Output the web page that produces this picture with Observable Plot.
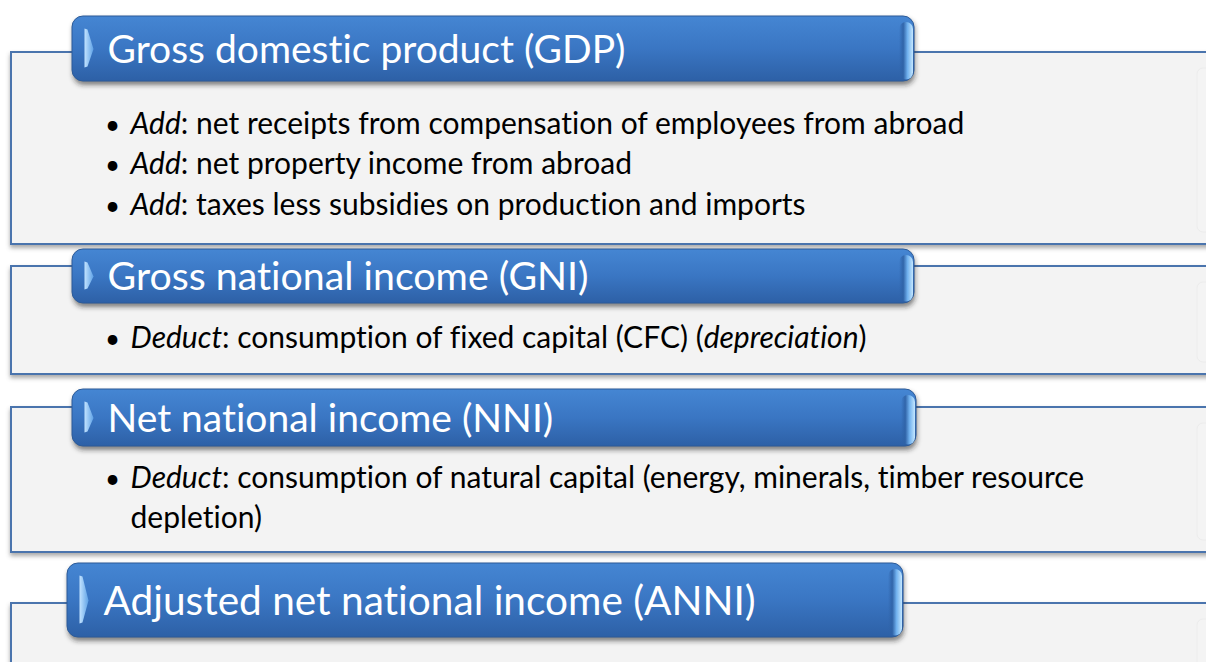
<!DOCTYPE html>
<html><head><meta charset="utf-8">
<script src="https://cdn.jsdelivr.net/npm/d3@7"></script>
<script src="https://cdn.jsdelivr.net/npm/@observablehq/plot@0.6"></script>
<style>html,body{margin:0;padding:0;background:#fff;overflow:hidden} svg text{font-variant-ligatures:none;font-feature-settings:"liga" 0,"clig" 0}</style>
</head><body><div id="chart"></div>
<script>
// ---- content ----
const sections = [
  "Gross domestic product (GDP)",
  "Gross national income (GNI)",
  "Net national income (NNI)",
  "Adjusted net national income (ANNI)"
];
const bulletTexts = [
  "*Add*: net receipts from compensation of employees from abroad",
  "*Add*: net property income from abroad",
  "*Add*: taxes less subsidies on production and imports",
  "*Deduct*: consumption of fixed capital (CFC) (*depreciation*)",
  "*Deduct*: consumption of natural capital (energy, minerals, timber resource",
  "depletion)"
];
const bulletHasDot = [true, true, true, true, true, false];

// ---- layout (diagram geometry) ----
const panelTop = [52, 266, 407, 603];
const panelBottom = [244, 374, 552, 720];
const panelLeft = 11, panelRight = 1225;
const headerX1 = [72, 72, 72, 67];
const headerX2 = [914, 914, 916, 903];
const headerY1 = [16, 249, 389, 563];
const headerY2 = [81, 303, 446, 637];
const headerBaseline = [62, 289, 431, 614];
const headerTextX = [107, 107, 107, 103];
const headerFont = [39, 39.3, 39, 40.6];
const bulletBaseline = [133, 173, 214, 347, 487, 527];
const dotX = 112, textX = 130, bulletFont = 30;

const chevron = sections.flatMap((s, i) => {
  const x = headerX1[i], t = headerY1[i], b = headerY2[i], m = (t + b) / 2;
  return [
    {i, x: x + 12, y: t + 12}, {i, x: x + 15, y: t + 13}, {i, x: x + 21, y: m},
    {i, x: x + 15, y: b - 15}, {i, x: x + 12, y: b - 14}
  ];
});

const svg = Plot.plot({
  width: 1206, height: 662, margin: 0,
  x: {domain: [0, 1206], range: [0, 1206], axis: null},
  y: {domain: [0, 662], range: [0, 662], axis: null},
  style: {background: "#fff", fontFamily: "Lato"},
  marks: [
    // 0 panel shadows
    Plot.rect(sections, {x1: panelLeft - 1, x2: panelRight, y1: (d, i) => panelTop[i] + 2, y2: (d, i) => panelBottom[i] + 4, fill: "#6f6f6f", fillOpacity: 0.6}),
    // 1 panels
    Plot.rect(sections, {x1: panelLeft, x2: panelRight, y1: (d, i) => panelTop[i], y2: (d, i) => panelBottom[i], fill: "#f3f3f3", stroke: "#4a74ad", strokeWidth: 2}),
    // 2 faint inner edge at right
    Plot.rect(sections, {x1: 1197, x2: 1240, y1: (d, i) => panelTop[i] + 16, y2: (d, i) => panelBottom[i] - 12, fill: "#f4f4f4", stroke: "#ececec", rx: 6}),
    // 3 header shadows
    Plot.rect(sections, {x1: (d, i) => headerX1[i] + 1, x2: (d, i) => headerX2[i] + 1, y1: (d, i) => headerY1[i] + 3, y2: (d, i) => headerY2[i] + 4, fill: "#222", fillOpacity: 0.55, rx: 11}),
    // 4 headers
    Plot.rect(sections, {x1: (d, i) => headerX1[i], x2: (d, i) => headerX2[i], y1: (d, i) => headerY1[i], y2: (d, i) => headerY2[i], fill: "url(#hdrGrad)", stroke: "#2c5b99", strokeWidth: 1, rx: 11}),
    // 5 right bevel
    Plot.rect(sections, {x1: (d, i) => headerX2[i] - 15, x2: (d, i) => headerX2[i] - 1, y1: (d, i) => headerY1[i] + 6, y2: (d, i) => headerY2[i] - 1.5, fill: "url(#bevelGrad)", rx: 7}),
    // 6 left chevron
    Plot.line(chevron, {x: "x", y: "y", z: "i", fill: "url(#chevGrad)", stroke: "none"}),
    // header titles
    Plot.text(sections, {x: (d, i) => headerTextX[i], y: (d, i) => headerBaseline[i], text: d => d, textAnchor: "start", lineAnchor: "bottom", fontSize: (d, i) => headerFont[i], fill: "#fff", fontFamily: "Lato"}),
    // bullet dots
    Plot.text(bulletTexts.filter((d, i) => bulletHasDot[i]), {x: dotX, y: (d, i) => bulletBaseline[i], text: () => "•", textAnchor: "middle", lineAnchor: "bottom", fontSize: 26, fill: "#000", fontFamily: "Lato"}),
    // bullet texts
    Plot.text(bulletTexts, {x: textX, y: (d, i) => bulletBaseline[i], text: d => d, textAnchor: "start", lineAnchor: "bottom", fontSize: bulletFont, fill: "#000", fontFamily: "Lato"})
  ]
});

// gradients and filters
const root = d3.select(svg);
const defs = root.insert("defs", ":first-child");
const g1 = defs.append("linearGradient").attr("id", "hdrGrad").attr("x1", 0).attr("y1", 0).attr("x2", 0).attr("y2", 1);
[["0", "#4586d3"], ["0.5", "#3a76c3"], ["1", "#2d60a6"]].forEach(([o, c]) => g1.append("stop").attr("offset", o).attr("stop-color", c));
const g2 = defs.append("linearGradient").attr("id", "chevGrad").attr("x1", 0).attr("y1", 0).attr("x2", 1).attr("y2", 0);
[["0", "#c2e3ff"], ["1", "#5fa2e6"]].forEach(([o, c]) => g2.append("stop").attr("offset", o).attr("stop-color", c));
const g3 = defs.append("linearGradient").attr("id", "bevelGrad").attr("x1", 0).attr("y1", 0).attr("x2", 1).attr("y2", 0);
[["0", "#2f62a6", 0], ["0.3", "#2f62a6", 0.9], ["0.6", "#6fb0ee", 1], ["1", "#c4e7ff", 1]].forEach(([o, c, a]) => g3.append("stop").attr("offset", o).attr("stop-color", c).attr("stop-opacity", a));
defs.append("filter").attr("id", "blurP").attr("x", "-2%").attr("y", "-10%").attr("width", "104%").attr("height", "120%")
  .append("feGaussianBlur").attr("stdDeviation", 2.2);
defs.append("filter").attr("id", "blurH").attr("x", "-2%").attr("y", "-20%").attr("width", "104%").attr("height", "140%")
  .append("feGaussianBlur").attr("stdDeviation", 2.5);
const groups = root.selectAll(":scope > g").nodes();
groups[0].setAttribute("filter", "url(#blurP)");
groups[3].setAttribute("filter", "url(#blurH)");

// italic segments marked with *...*
root.selectAll("text").each(function () {
  const t = this.textContent;
  if (!t.includes("*")) return;
  this.textContent = "";
  t.split("*").forEach((p, k) => {
    if (!p) return;
    const ts = document.createElementNS("http://www.w3.org/2000/svg", "tspan");
    if (k % 2 === 1) ts.setAttribute("font-style", "italic");
    ts.textContent = p;
    this.appendChild(ts);
  });
});

document.getElementById("chart").appendChild(svg);
</script>
</body></html>
